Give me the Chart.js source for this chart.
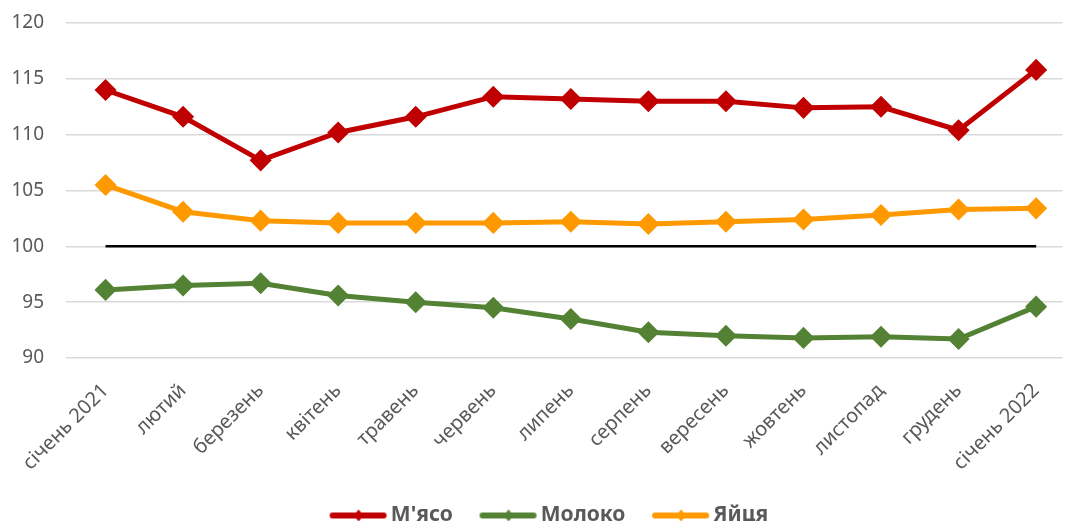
<!DOCTYPE html>
<html>
<head>
<meta charset="utf-8">
<script src="https://cdn.jsdelivr.net/npm/chart.js@4"></script>
<style>
  html, body { margin: 0; padding: 0; background: #fff; }
  #wrap { width: 1075px; height: 521px; }
</style>
</head>
<body>
<div id="wrap"><canvas id="chart"></canvas></div>
<script>
const months = ["січень 2021", "лютий", "березень", "квітень", "травень", "червень",
  "липень", "серпень", "вересень", "жовтень", "листопад", "грудень", "січень 2022"];
const meat = [114.0, 111.6, 107.7, 110.2, 111.6, 113.4, 113.2, 113.0, 113.0, 112.4, 112.5, 110.4, 115.8];
const milk = [96.1, 96.5, 96.7, 95.6, 95.0, 94.5, 93.5, 92.3, 92.0, 91.8, 91.9, 91.7, 94.6];
const eggs = [105.5, 103.1, 102.3, 102.1, 102.1, 102.1, 102.2, 102.0, 102.2, 102.4, 102.8, 103.3, 103.4];
const base = months.map(() => 100);

const grey = "#595959";
const font = "'Noto Sans', 'DejaVu Sans', sans-serif";

// line + diamond marker for the legend (image is wider than the legend box, line sits to the right)
function legendMark(color) {
  const c = document.createElement("canvas");
  c.width = 80; c.height = 14;
  const g = c.getContext("2d");
  g.strokeStyle = color; g.lineWidth = 6; g.lineCap = "round";
  g.beginPath(); g.moveTo(24, 7); g.lineTo(75, 7); g.stroke();
  g.fillStyle = color;
  g.beginPath(); g.moveTo(50, 1); g.lineTo(55, 7); g.lineTo(50, 13); g.lineTo(45, 7); g.closePath(); g.fill();
  return c;
}

function series(label, values, color) {
  return {
    label: label,
    data: values.map((v, i) => ({ x: i, y: v })),
    borderColor: color,
    backgroundColor: color,
    borderWidth: 5,
    pointStyle: "rectRot",
    pointRadius: 7.5,
    pointHoverRadius: 7.5,
    legendMark: legendMark(color)
  };
}

new Chart(document.getElementById("chart"), {
  type: "line",
  data: {
    datasets: [
      series("М'ясо", meat, "#c00000"),
      series("Молоко", milk, "#548235"),
      series("Яйця", eggs, "#ff9900"),
      {
        label: "base",
        data: base.map((v, i) => ({ x: i, y: v })),
        borderColor: "#000",
        borderWidth: 2.5,
        pointRadius: 0
      }
    ]
  },
  options: {
    responsive: true,
    maintainAspectRatio: false,
    animation: false,
    layout: { padding: { top: 23, left: 10, right: 0, bottom: -15 } },
    scales: {
      x: {
        type: "linear",
        min: -0.51,
        max: 12.34,
        afterBuildTicks: (axis) => { axis.ticks = months.map((_, i) => ({ value: i })); },
        afterFit: (axis) => { axis.height = 133; axis.paddingLeft = 0; axis.paddingRight = 0; },
        grid: { display: false },
        border: { display: false },
        ticks: {
          callback: (v) => months[v],
          minRotation: 45,
          maxRotation: 45,
          color: grey,
          font: { family: font, size: 20 },
          padding: 13
        }
      },
      y: {
        min: 90,
        max: 120,
        afterFit: (axis) => { axis.width = 56; axis.paddingTop = 0; axis.paddingBottom = 0; },
        ticks: { stepSize: 5, color: grey, font: { family: font, size: 19 }, padding: 22 },
        grid: { color: "#d9d9d9", lineWidth: 1.5, drawTicks: false },
        border: { display: false }
      }
    },
    plugins: {
      tooltip: { enabled: false },
      legend: {
        position: "bottom",
        labels: {
          usePointStyle: true,
          pointStyleWidth: 63.5,
          padding: 14,
          color: grey,
          font: { family: font, size: 21, weight: "bold" },
          filter: (item) => item.text !== "base",
          generateLabels: (chart) => chart.data.datasets.map((ds, i) => ({
            text: ds.label,
            fillStyle: ds.borderColor,
            strokeStyle: ds.borderColor,
            pointStyle: ds.legendMark,
            fontColor: grey,
            datasetIndex: i,
            hidden: false,
            lineWidth: 0
          }))
        }
      }
    }
  }
});
</script>
</body>
</html>
